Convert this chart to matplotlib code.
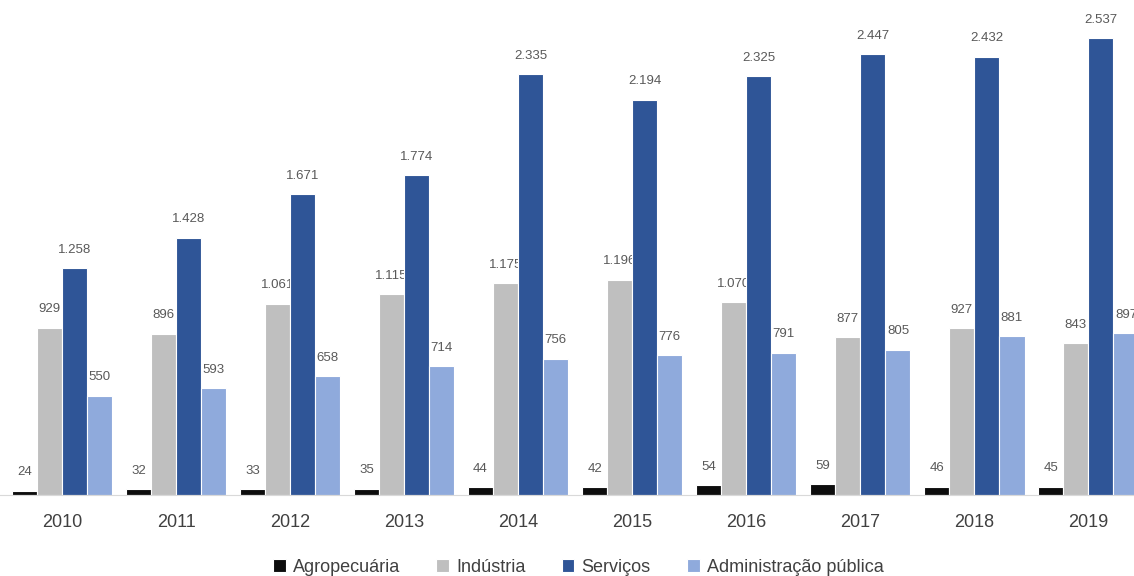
import matplotlib
matplotlib.use("Agg")
import matplotlib.pyplot as plt
import numpy as np

years = ["2010", "2011", "2012", "2013", "2014", "2015", "2016", "2017", "2018", "2019"]
series = ["Agropecuária", "Indústria", "Serviços", "Administração pública"]
agro = [24, 32, 33, 35, 44, 42, 54, 59, 46, 45]
industria = [929, 896, 1061, 1115, 1175, 1196, 1070, 877, 927, 843]
servicos = [1258, 1428, 1671, 1774, 2335, 2194, 2325, 2447, 2432, 2537]
admin = [550, 593, 658, 714, 756, 776, 791, 805, 881, 897]
colors = ["#0d0d0d", "#bfbfbf", "#2f5597", "#8faadc"]

plt.rcParams["font.family"] = ["Liberation Sans", "DejaVu Sans"]


def fmt(v):
    return f"{v:,}".replace(",", ".")


fig = plt.figure(figsize=(11.34, 5.76), dpi=100)
ax = fig.add_axes([0, 81 / 576, 1, 495 / 576])

x = np.arange(len(years))
w = 0.22
for i, (vals, c) in enumerate(zip([agro, industria, servicos, admin], colors)):
    pos = x + (i - 1.5) * w
    ax.bar(pos, vals, width=w, color=c, edgecolor="white", linewidth=0.8,
           label=series[i], zorder=2)
    for p, v in zip(pos, vals):
        ax.annotate(fmt(v), (p, v), xytext=(0, 9), textcoords="offset points",
                    ha="center", va="bottom", fontsize=9.5, color="#595959", zorder=1)

ax.set_xlim(-0.544, 9.40)
ax.set_ylim(0, 2748)
for s in ["top", "right", "left"]:
    ax.spines[s].set_visible(False)
ax.spines["bottom"].set_color("#d9d9d9")
ax.set_yticks([])
ax.set_xticks(x)
ax.set_xticklabels(years, fontsize=13, color="#404040")
ax.tick_params(axis="x", length=0, pad=14)

fig.legend(loc="center", bbox_to_anchor=(0.51, 1 - 567 / 576), ncol=4, frameon=False,
           handlelength=0.7, handleheight=0.7, handletextpad=0.4, columnspacing=2.0,
           fontsize=13, labelcolor="#404040")

fig.savefig("out.png", dpi=100)
